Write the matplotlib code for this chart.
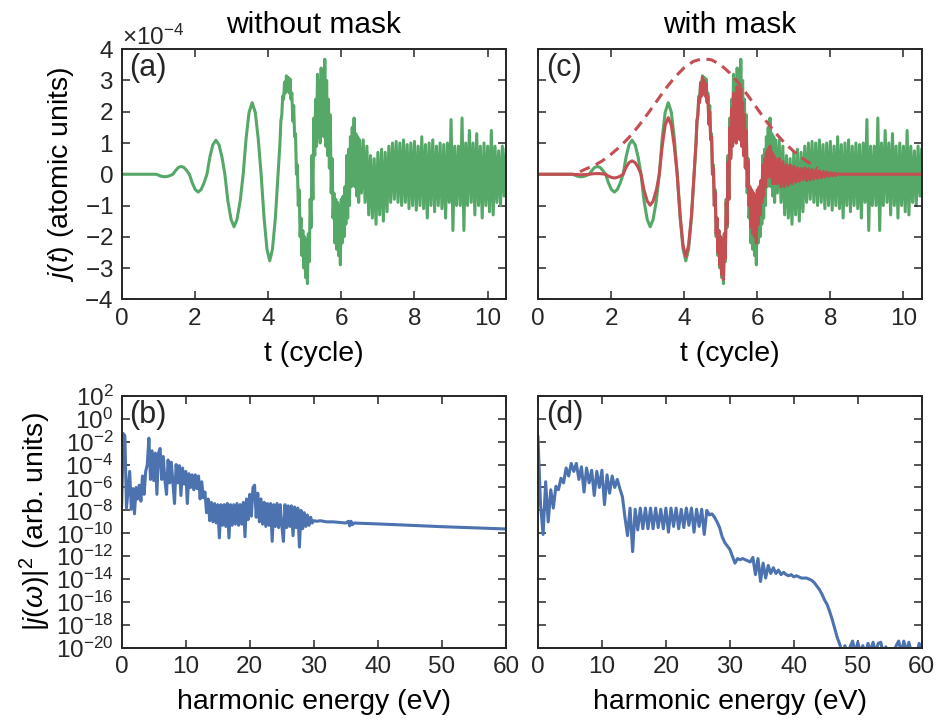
import numpy as np
import matplotlib
matplotlib.use('Agg')
import matplotlib.pyplot as plt
from matplotlib import ticker

plt.rcParams['font.family'] = ['Liberation Sans', 'DejaVu Sans']
plt.rcParams['mathtext.fontset'] = 'custom'
plt.rcParams['mathtext.rm'] = 'Liberation Sans'
plt.rcParams['mathtext.it'] = 'Liberation Sans:italic'
plt.rcParams['mathtext.bf'] = 'Liberation Sans:bold'

GREEN = '#55A868'
RED = '#C44E52'
BLUE = '#4C72B0'
DARK = '#262626'

# ---- current j(t), units of 1e-4 a.u. ----
# smooth early part (t in cycles)
t_smooth = [0.0,
            0.95, 1.025, 1.10, 1.175, 1.25, 1.325,
            1.40, 1.475, 1.55, 1.625, 1.70, 1.775,
            1.85, 1.93, 2.01, 2.09, 2.17, 2.25,
            2.33, 2.41, 2.49, 2.575, 2.66, 2.74,
            2.82, 2.90, 2.99, 3.07, 3.15, 3.24,
            3.32, 3.40, 3.48, 3.565, 3.65, 3.73,
            3.81, 3.89, 3.97, 4.045, 4.12, 4.20]
j_green_smooth = [0.0,
                  0.0, -0.04, -0.07, -0.08, -0.07, -0.04,
                  0.0, 0.12, 0.22, 0.25, 0.22, 0.12,
                  0.0, -0.28, -0.49, -0.57, -0.49, -0.28,
                  0.0, 0.55, 0.94, 1.09, 0.94, 0.55,
                  0.0, -0.84, -1.45, -1.68, -1.45, -0.84,
                  0.0, 1.15, 1.98, 2.29, 1.98, 1.15,
                  0.0, -1.39, -2.40, -2.77, -2.40, -1.39]
j_red_smooth = [0.0,
                0.0, -0.01, -0.01, -0.02, -0.01, -0.01,
                0.0, 0.01, 0.02, 0.02, 0.02, 0.01,
                0.0, -0.06, -0.10, -0.12, -0.10, -0.06,
                0.0, 0.22, 0.37, 0.43, 0.37, 0.22,
                0.0, -0.50, -0.86, -0.99, -0.86, -0.50,
                0.0, 0.90, 1.57, 1.81, 1.57, 0.90,
                0.0, -1.32, -2.28, -2.63, -2.28, -1.32]

# strong-field burst, sampled every 0.025 cycle from t = 4.30 to 6.50
t_burst_start = 4.30
t_burst_step = 0.025
j_green_burst = [
    0.5, 1.0, 1.7, 1.9, 2.5, 2.4, 2.95, 2.6, 3.15,
    2.7, 3.1, 2.6, 3.05, 2.4, 2.6, 1.7, 2.2, 1.2, 1.3,
    0.0, 0.3, -1.0, -0.5, -2.0, -1.4, -2.6, -1.8, -3.0, -2.0,
    -3.3, -2.1, -3.5, -1.9, -2.8, -0.8, -1.7, 0.6, -0.8, 1.8,
    0.6, 2.4, 0.9, 3.2, 1.2, 3.0, 1.0, 3.4, 1.3, 3.0,
    1.2, 3.68, 0.9, 3.0, 0.6, 2.4, 0.2, 1.9, -0.6, 0.5,
    -1.4, -0.6, -2.2, -0.8, -2.4, -0.9, -2.6, -1.0, -2.9, -0.8,
    -2.2, -0.7, -2.0, -0.4, -1.6, 0.6, -1.4, 0.8, -1.0, 1.2,
    -0.4, 1.5, -0.3, 1.8, -0.4, 1.3, -0.7, 1.2, -0.9, 1.1]
j_red_burst = [
    0.5, 1.0, 1.7, 1.9, 2.4, 2.3, 2.9, 2.5, 3.1,
    2.6, 3.0, 2.5, 2.9, 2.3, 2.5, 1.6, 2.0, 1.1, 1.2,
    0.0, 0.2, -1.0, -0.6, -1.9, -1.4, -2.5, -1.8, -2.9, -2.0,
    -3.2, -2.1, -3.37, -1.9, -2.7, -0.9, -1.6, 0.4, -0.8, 1.5,
    0.5, 2.1, 0.9, 2.6, 1.1, 2.5, 1.0, 2.8, 1.2, 2.6,
    1.1, 2.75, 0.9, 2.3, 0.6, 1.9, 0.2, 1.4, -0.4, 0.4,
    -1.0, -0.4, -1.7, -0.5, -1.9, -0.6, -2.0, -0.7, -2.2, -0.5,
    -1.6, -0.4, -1.3, -0.2, -0.9, 0.3, -0.7, 0.5, -0.4, 0.7,
    -0.1, 0.8, 0.0, 0.9, -0.1, 0.7, -0.3, 0.6, -0.3, 0.5]

# after the burst, sampled every 0.05 cycle from t = 6.55
t_after_start = 6.55
t_after_step = 0.05
j_green_after = [
    -0.6, 1.1, -0.9, 0.9, -1.3, 0.6, -1.4, 0.5, -1.6, 0.7,
    -1.3, 0.8, -1.5, 0.7, -1.2,
    0.9, -0.9, 1.0, -0.8, 1.05, -0.9, 1.0, -1.0, 1.1, -0.9,
    0.95, -1.1, 1.0, -1.0, 1.05, -1.15, 0.9, -1.0, 1.2, -1.1,
    0.95, -1.4, 1.0, -1.0, 1.1, -1.2, 0.9, -1.0, 1.0, -1.1,
    0.95, -1.4, 1.0, -0.9, 1.75, -1.8, 0.9, -1.0, 0.9, -1.0,
    1.8, -1.8, 1.0, -1.0, 1.4, -0.9, 1.0, -1.3, 1.3, -1.0,
    0.9, -1.4, 1.0, -1.0, 0.9, -1.2, 1.4, -1.3, 0.9, -0.9,
    0.75, -1.0, 0.9, -0.7, 0.8]
j_red_after = [
    -0.3, 0.5, -0.4, 0.4, -0.4, 0.3, -0.35, 0.3, -0.3, 0.25,
    -0.25, 0.2, -0.22, 0.18, -0.18,
    0.2, -0.2, 0.18, -0.18, 0.15, -0.15, 0.13, -0.13, 0.11, -0.11,
    0.09, -0.09, 0.07, -0.07, 0.05, -0.05, 0.04, -0.04, 0.02, 0.0]
t_red_tail = [10.5]
j_red_tail = [0.0]

# mask envelope (dashed), same units
t_mask = [1.15, 1.25, 1.5, 1.75, 2.0, 2.25, 2.5, 2.75, 3.0, 3.25, 3.5,
          3.75, 4.0, 4.25, 4.5, 4.75, 5.0, 5.25, 5.5, 5.75, 6.0, 6.25,
          6.5, 6.75, 7.0, 7.25, 7.5, 7.65]
j_mask = [0.08, 0.14, 0.26, 0.42, 0.64, 0.89, 1.19, 1.54, 1.93, 2.34, 2.75,
          3.11, 3.41, 3.61, 3.70, 3.66, 3.50, 3.24, 2.90, 2.51, 2.10, 1.69,
          1.32, 1.00, 0.73, 0.50, 0.30, 0.18]

# ---- spectra, log10 |j(w)|^2 ----
# without mask: every 0.25 eV from 0 to 30, then a smooth tail
e_step_b = 0.25
logS_b = [
    -7.5, -1.3, -1.5, -7.8, -6.2, -4.6, -7.9, -6.1,
    -8.3, -6.0, -7.0, -5.8, -7.2, -5.0, -6.6, -4.6,
    -4.0, -1.7, -5.3, -2.8, -5.4, -3.0, -6.6, -3.0,
    -2.6, -5.3, -3.3, -5.4, -6.6, -3.6, -5.6, -3.8,
    -5.6, -7.4, -4.0, -5.6, -4.1, -6.7, -4.3, -5.7,
    -4.6, -7.4, -4.8, -6.0, -4.9, -6.2, -4.9, -6.1,
    -5.0, -7.0, -5.5, -6.9, -6.4, -8.2, -7.0, -8.9,
    -7.3, -9.0, -7.4, -9.1, -7.5, -10.4, -7.5, -9.3,
    -7.5, -9.4, -7.4, -10.4, -7.5, -9.3, -7.5, -9.2,
    -7.4, -9.3, -7.5, -9.2, -7.3, -10.3, -7.0, -8.8,
    -6.6, -8.5, -6.0, -5.8, -8.6, -6.5, -9.0, -7.0,
    -9.2, -7.3, -9.4, -7.4, -9.3, -7.4, -10.7, -7.5,
    -9.4, -7.4, -9.5, -7.5, -9.3, -10.7, -7.5, -9.5,
    -7.6, -9.4, -7.6, -10.2, -7.7, -9.5, -7.8, -11.2,
    -8.0, -9.6, -8.2, -9.4, -8.4, -9.3, -8.6, -9.1,
    -8.9]
e_tail_b = [30.5, 31, 32, 33, 34, 35, 35.4, 35.6, 35.8, 36.0, 36.3, 37,
            40, 45, 50, 55, 60]
logS_tail_b = [-8.95, -8.9, -9.0, -9.0, -9.05, -9.1, -8.95, -9.35, -8.95,
               -9.25, -9.1, -9.12, -9.18, -9.3, -9.42, -9.52, -9.62]

# with mask: every 0.4 eV from 0 to 60
e_step_d = 0.4
logS_d = [
    -1.6, -7.5, -10.1, -5.5, -9.0, -6.2, -7.8, -5.9, -6.2, -5.2,
    -5.6, -4.3, -5.0, -3.9, -4.6, -3.9, -5.3, -4.2, -6.4, -4.3,
    -5.6, -4.5, -6.7, -4.6, -6.0, -4.5, -7.5, -4.9, -6.5, -5.0,
    -6.0, -5.3, -6.1, -6.8, -8.6, -10.2, -7.8, -11.6, -7.9, -9.7,
    -7.8, -9.6, -7.8, -9.6, -7.8, -9.6, -7.8, -9.5, -7.9, -9.6,
    -7.8, -9.9, -7.8, -9.4, -7.8, -9.6, -7.9, -9.5, -7.8, -9.3,
    -7.8, -9.9, -7.9, -9.4, -7.9, -10.1, -8.0, -8.4, -8.3, -8.6,
    -9.0, -9.5, -10.3, -10.8, -11.1, -11.4, -12.0, -12.6, -12.2, -12.3,
    -12.2, -12.3, -12.4, -12.5, -12.1, -13.6, -12.2, -14.2, -12.6, -13.9,
    -12.8, -13.5, -13.0, -13.5, -13.2, -13.6, -13.4, -13.6, -13.7, -13.6,
    -13.8, -13.7, -13.8, -13.9, -13.9, -13.9, -14.0, -14.1, -14.3, -14.6,
    -14.9, -15.3, -15.8, -16.2, -16.8, -17.5, -18.3, -19.1, -19.7, -20.5,
    -19.8, -20.6, -19.9, -19.4, -20.5, -19.5, -20.4, -19.8, -20.6, -19.6,
    -20.3, -19.5, -20.4, -19.6, -19.5, -20.5, -19.9, -20.8, -20.2, -20.6,
    -19.8, -19.4, -20.4, -19.4, -20.3, -19.5, -20.5, -20.2, -20.6, -19.6,
    -20.3]

# ---- assemble series ----
t_burst = t_burst_start + t_burst_step * np.arange(len(j_green_burst))
t_after_g = t_after_start + t_after_step * np.arange(len(j_green_after))
t_after_r = t_after_start + t_after_step * np.arange(len(j_red_after))
t_green = np.concatenate([t_smooth, t_burst, t_after_g])
j_green = np.concatenate([j_green_smooth, j_green_burst, j_green_after]) * 1e-4
t_red = np.concatenate([t_smooth, t_burst, t_after_r, t_red_tail])
j_red = np.concatenate([j_red_smooth, j_red_burst, j_red_after,
                        j_red_tail]) * 1e-4

e_b = np.concatenate([e_step_b * np.arange(len(logS_b)), e_tail_b])
s_b = 10.0 ** np.concatenate([logS_b, logS_tail_b])
e_d = e_step_d * np.arange(len(logS_d))
s_d = 10.0 ** np.array(logS_d)

# ---- figure ----
fig = plt.figure(figsize=(9.41, 7.22), dpi=100)
ax_a = fig.add_axes([0.1293, 0.5855, 0.4084, 0.3463])
ax_c = fig.add_axes([0.5717, 0.5855, 0.4078, 0.3463])
ax_b = fig.add_axes([0.1293, 0.1025, 0.4084, 0.3494])
ax_d = fig.add_axes([0.5717, 0.1025, 0.4078, 0.3494])

LW = 2.2
TICK_FS = 17.5
LABEL_FS = 20.5


def style(ax):
    ax.tick_params(direction='in', top=True, right=True, length=6, width=1.1,
                   labelsize=TICK_FS, colors=DARK, pad=6)
    for sp in ax.spines.values():
        sp.set_linewidth(1.4)
        sp.set_color(DARK)


# top row: currents
ax_a.plot(t_green, j_green, color=GREEN, lw=LW)
ax_c.plot(t_green, j_green, color=GREEN, lw=LW, zorder=1)
ax_c.plot(t_red, j_red, color=RED, lw=LW, zorder=2)
ax_c.plot(t_mask, np.array(j_mask) * 1e-4, color=RED, lw=LW,
          ls=(0, (3.5, 2.2)), zorder=3)

for ax in (ax_a, ax_c):
    style(ax)
    ax.set_xlim(0, 10.5)
    ax.set_ylim(-4e-4, 4e-4)
    ax.set_xticks(range(0, 11, 2))
    ax.set_yticks(np.arange(-4, 5) * 1e-4)
    ax.set_xlabel('t (cycle)', fontsize=LABEL_FS, labelpad=8)

fmt = ticker.ScalarFormatter(useMathText=True)
fmt.set_powerlimits((0, 0))
ax_a.yaxis.set_major_formatter(fmt)
ax_a.yaxis.get_offset_text().set_fontsize(TICK_FS)
ax_a.set_ylabel('$j(t)$ (atomic units)', fontsize=LABEL_FS, labelpad=6)
ax_c.tick_params(labelleft=False)

ax_a.set_title('without mask', fontsize=21.5, pad=12)
ax_c.set_title('with mask', fontsize=21.5, pad=12)

# bottom row: spectra
ax_b.plot(e_b, s_b, color=BLUE, lw=LW)
ax_d.plot(e_d, s_d, color=BLUE, lw=LW)

for ax in (ax_b, ax_d):
    style(ax)
    ax.set_yscale('log')
    ax.set_xlim(0, 60)
    ax.set_ylim(1e-20, 1e2)
    ax.set_xticks(range(0, 61, 10))
    ax.yaxis.set_major_locator(ticker.FixedLocator(10.0 ** np.arange(-20, 3, 2)))
    ax.yaxis.set_major_formatter(ticker.LogFormatterMathtext(base=10))
    ax.yaxis.set_minor_locator(ticker.NullLocator())
    ax.set_xlabel('harmonic energy (eV)', fontsize=LABEL_FS, labelpad=8)

ax_b.set_ylabel(r'$|j(\omega)|^2$ (arb. units)', fontsize=LABEL_FS, labelpad=2)
ax_d.tick_params(labelleft=False)

for ax, lab in ((ax_a, '(a)'), (ax_c, '(c)'), (ax_b, '(b)'), (ax_d, '(d)')):
    ax.text(0.02, 0.985, lab, transform=ax.transAxes, ha='left', va='top',
            fontsize=22, color=DARK)

fig.savefig('out.png', dpi=100)
